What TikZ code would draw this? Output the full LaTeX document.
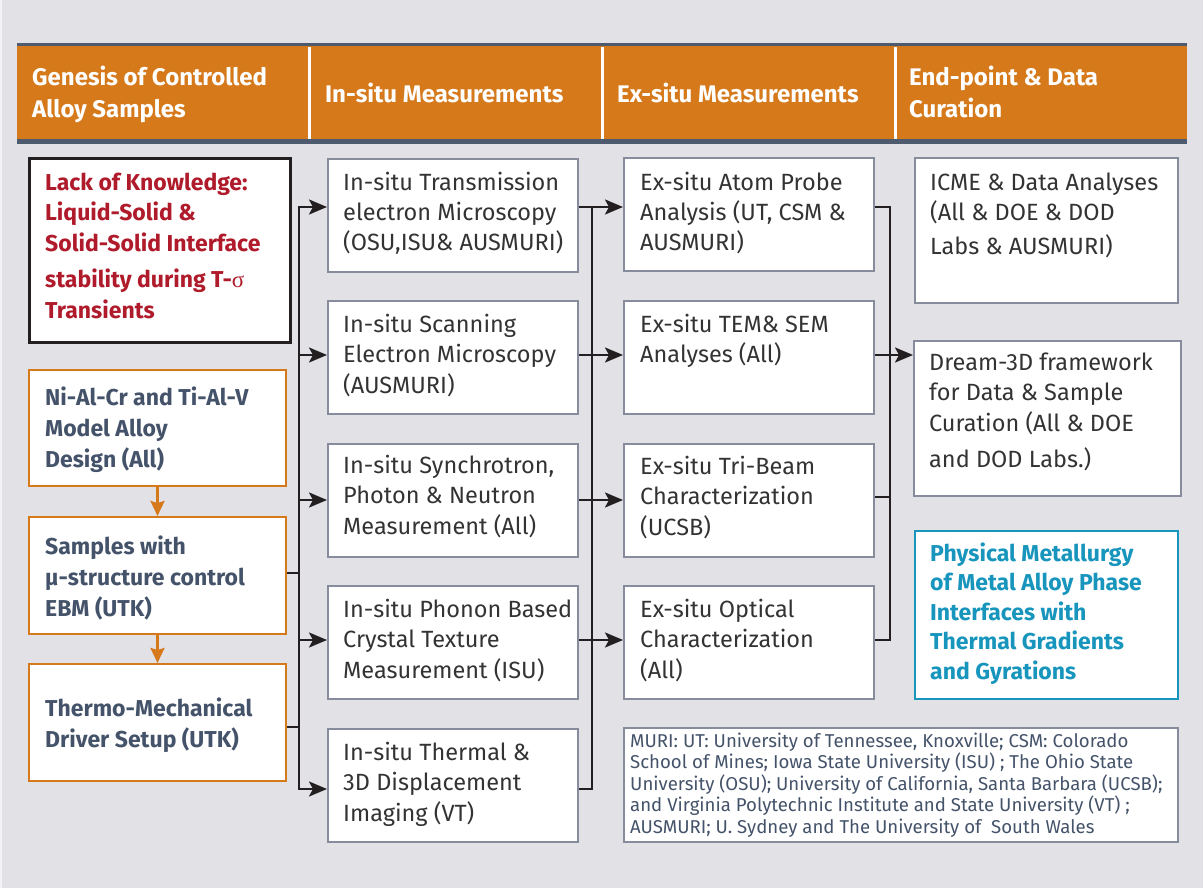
\documentclass[tikz,border=0pt]{standalone}
\usepackage{fontspec}
\setmainfont{Fira Sans}
\newfontfamily\greekserif{Liberation Serif}
\usetikzlibrary{arrows.meta}

\definecolor{bg}{HTML}{E1E1E6}
\definecolor{hdr}{HTML}{D5791B}
\definecolor{hdrline}{HTML}{4E5A6D}
\definecolor{boxline}{HTML}{878C9C}
\definecolor{bodytxt}{HTML}{333333}
\definecolor{slate}{HTML}{44536A}
\definecolor{crimson}{HTML}{B01B2B}
\definecolor{tealtxt}{HTML}{1795BC}
\definecolor{wire}{HTML}{231F20}

% multi-line text block whose baseline is the first line
\newcommand{\ml}[1]{\parbox[t]{700pt}{\raggedright #1}}

\begin{document}
\begin{tikzpicture}[x=1pt,y=-1pt,
  cell/.style n args={2}{draw=boxline, line width=2pt, fill=white, anchor=north west,
    inner sep=0pt, minimum width=#1, minimum height=#2},
  gencell/.style={draw=hdr, line width=2pt},
  txt/.style={anchor=base west, inner sep=0pt, text=bodytxt,
    font=\fontsize{23.5}{30.5}\selectfont},
  gentxt/.style={anchor=base west, inner sep=0pt, text=slate,
    font=\fontsize{23}{31}\selectfont\bfseries},
  hdtxt/.style={anchor=base west, inner sep=0pt, text=white,
    font=\fontsize{24}{31.5}\selectfont\bfseries},
  wireline/.style={draw=wire, line width=2.5pt},
  arr/.style={-{Stealth[length=18pt,width=15pt,inset=4pt]}},
  darr/.style={{Stealth[length=18pt,width=15pt,inset=4pt]}-{Stealth[length=18pt,width=15pt,inset=4pt]}},
  orangearr/.style={draw=hdr, line width=2.5pt, -{Stealth[length=15pt,width=14pt,inset=2pt]}}
]
\useasboundingbox (0,0) rectangle (1203,888);
\fill[bg] (0,0) rectangle (1203,888);
\fill[white!60!bg] (0,0) rectangle (2,888);

% header band
\fill[hdr] (17,43) rectangle (1187,143);
\fill[hdrline] (17,43) rectangle (1187,46.5);
\fill[hdrline] (17,139.5) rectangle (1187,144);
\fill[white] (308,47) rectangle (311,139);
\fill[white] (601,47) rectangle (604,139);
\fill[white] (894,47) rectangle (897,139);
\node[hdtxt] (h1) at (32,86) {\ml{Genesis of Controlled\\Alloy Samples}};
\node[hdtxt] (h2) at (325,103) {In-situ Measurements};
\node[hdtxt] (h3) at (617,103) {Ex-situ Measurements};
\node[hdtxt] (h4) at (909,86) {\ml{End-point \& Data\\Curation}};

% column 1: genesis of samples
\node[cell={261}{184}, draw=wire, line width=3pt] (lack) at (28,157) {};
\node[gentxt, text=crimson] (lackt) at (45,190)
  {\ml{Lack of Knowledge:\\Liquid-Solid \&\\Solid-Solid Interface\\[5pt]stability during T-{\greekserif\mdseries σ}\\Transients}};
\node[cell={257}{116}, gencell] (ni) at (28,369) {};
\node[gentxt] (nit) at (45,405) {\ml{Ni-Al-Cr and Ti-Al-V\\Model Alloy\\Design (All)}};
\node[cell={257}{117}, gencell] (sam) at (28,516) {};
\node[gentxt] (samt) at (45,554) {\ml{Samples with\\µ-structure control\\EBM (UTK)}};
\node[cell={257}{117}, gencell] (thermo) at (28,663) {};
\node[gentxt] (thermot) at (45,716) {\ml{Thermo-Mechanical\\Driver Setup (UTK)}};

% column 2: in-situ measurements
\node[cell={250}{113}] (in1) at (327,158) {};
\node[txt] (in1t) at (343,190) {\ml{In-situ Transmission\\electron Microscopy\\(OSU,ISU\& AUSMURI)}};
\node[cell={250}{113}] (in2) at (327,300) {};
\node[txt] (in2t) at (343,332) {\ml{In-situ Scanning\\Electron Microscopy\\(AUSMURI)}};
\node[cell={250}{113}] (in3) at (327,443) {};
\node[txt] (in3t) at (343,473) {\ml{In-situ Synchrotron,\\Photon \& Neutron\\Measurement (All)}};
\node[cell={250}{113}] (in4) at (327,585) {};
\node[txt] (in4t) at (343,617) {\ml{In-situ Phonon Based\\Crystal Texture\\Measurement (ISU)}};
\node[cell={250}{113}] (in5) at (327,728) {};
\node[txt] (in5t) at (343,760) {\ml{In-situ Thermal \&\\3D Displacement\\Imaging (VT)}};

% column 3: ex-situ measurements
\node[cell={250}{113}] (ex1) at (623,157) {};
\node[txt] (ex1t) at (640,190) {\ml{Ex-situ Atom Probe\\Analysis (UT, CSM \&\\AUSMURI)}};
\node[cell={250}{113}] (ex2) at (623,300) {};
\node[txt] (ex2t) at (640,332) {\ml{Ex-situ TEM\& SEM\\Analyses (All)}};
\node[cell={250}{113}] (ex3) at (623,443) {};
\node[txt] (ex3t) at (640,474) {\ml{Ex-situ Tri-Beam\\Characterization\\(UCSB)}};
\node[cell={250}{113}] (ex4) at (623,585) {};
\node[txt] (ex4t) at (640,617) {\ml{Ex-situ Optical\\Characterization\\(All)}};

% column 4: end-point and curation
\node[cell={263}{145}] (icme) at (914,157) {};
\node[txt] (icmet) at (930,190) {\ml{ICME \& Data Analyses\\(All \& DOE \& DOD\\[4pt]Labs \& AUSMURI)}};
\node[cell={267}{155}] (dream) at (913,340) {};
\node[txt] (dreamt) at (929,370) {\ml{Dream-3D framework\\for Data \& Sample\\Curation (All \& DOE\\[6pt]and DOD Labs.)}};
\node[cell={263}{168}, draw=tealtxt] (phys) at (914,530) {};
\node[gentxt, text=tealtxt, font=\fontsize{23}{29.5}\selectfont\bfseries] (physt) at (930,561)
  {\ml{Physical Metallurgy\\of Metal Alloy Phase\\Interfaces with\\Thermal Gradients\\and Gyrations}};

% affiliations note
\node[cell={554}{114}] (note) at (623,727) {};
\node[anchor=base west, inner sep=0pt, text=slate, font=\fontsize{18.6}{21.5}\selectfont] (notet) at (630,747)
  {\ml{MURI: UT: University of Tennessee, Knoxville; CSM: Colorado\\School of Mines; Iowa State University (ISU) ; The Ohio State\\University (OSU); University of California, Santa Barbara (UCSB);\\and Virginia Polytechnic Institute and State University (VT) ;\\AUSMURI; U. Sydney and The University of\ \ South Wales}};

% sample preparation chain
\draw[orangearr] (ni.south) -- (sam.north);
\draw[orangearr] (sam.south) -- (thermo.north);

% left distribution bus
\coordinate (L1) at (299,207);
\coordinate (L2) at (299,355);
\coordinate (L3) at (299,500);
\coordinate (L4) at (299,640);
\coordinate (L5) at (299,789);
\coordinate (LS) at (299,573);
\coordinate (LT) at (299,727);
\draw[wireline, darr] (in1.west |- L1) -- (L1) -- (L5) -- (in5.west |- L5);
\draw[wireline, arr] (L2) -- (L2 -| in2.west);
\draw[wireline, arr] (L3) -- (L3 -| in3.west);
\draw[wireline, arr] (L4) -- (L4 -| in4.west);
\draw[wireline] (sam.east |- LS) -- (LS);
\draw[wireline] (thermo.east |- LT) -- (LT);

% middle bus
\coordinate (M1) at (592,207);
\coordinate (M2) at (592,355);
\coordinate (M3) at (592,500);
\coordinate (M4) at (592,640);
\coordinate (M5) at (592,789);
\draw[wireline, arr] (in5.east |- M5) -- (M5) -- (M1) -- (M1 -| ex1.west);
\draw[wireline] (in1.east |- M1) -- (M1);
\draw[wireline, arr] (in2.east |- M2) -- (M2 -| ex2.west);
\draw[wireline, arr] (in3.east |- M3) -- (M3 -| ex3.west);
\draw[wireline, arr] (in4.east |- M4) -- (M4 -| ex4.west);

% right bus
\coordinate (R1) at (890,207);
\coordinate (R2) at (890,355);
\coordinate (R3) at (890,497);
\coordinate (R4) at (890,640);
\draw[wireline] (ex1.east |- R1) -- (R1) -- (R4) -- (ex4.east |- R4);
\draw[wireline] (ex3.east |- R3) -- (R3);
\draw[wireline, arr] (ex2.east |- R2) -- (R2 -| dream.west);
\end{tikzpicture}
\end{document}
